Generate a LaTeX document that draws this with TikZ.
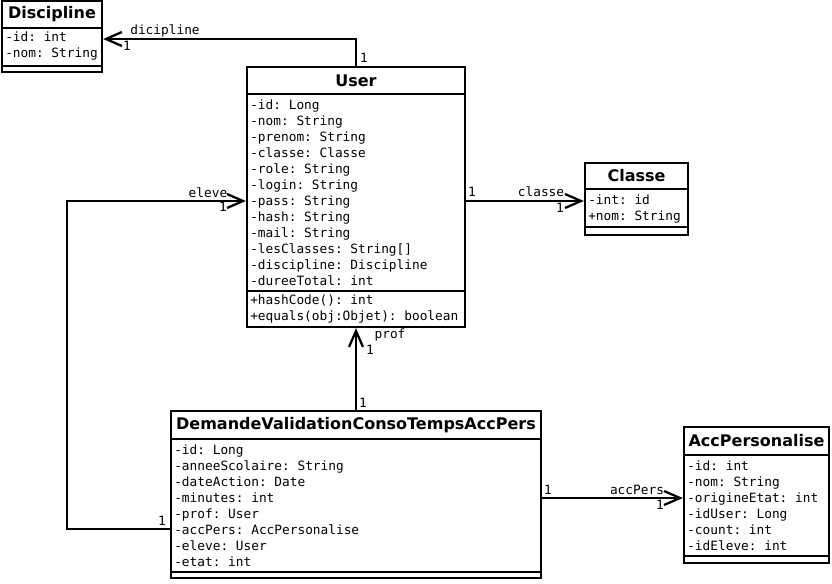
\documentclass[tikz,border=0pt]{standalone}
\usepackage{fontspec}
\setmainfont{DejaVu Sans}
\setmonofont{DejaVu Sans Mono}
\usetikzlibrary{arrows.meta, fit}

\begin{document}
\begin{tikzpicture}[x=0.75pt, y=-0.75pt,
    classbox/.style={draw, line width=1.7pt, inner sep=0pt},
    classline/.style={line width=1.7pt},
    classtitle/.style={font=\bfseries\fontsize{12}{14}\selectfont},
    members/.style={font=\ttfamily\fontsize{9.6}{12}\selectfont, align=left, anchor=west, inner sep=0pt},
    role/.style={font=\ttfamily\fontsize{9.6}{12}\selectfont, inner sep=0pt},
    assoc/.style={line width=1.7pt, -{Straight Barb[length=12pt, width=10.5pt]}}]
    \fill[white] (0,0) rectangle (832,583);
    \useasboundingbox (0,0) rectangle (832,583);

    % Discipline
    \node[classbox, fit={(2,1) (102,72)}] (discipline) {};
    \draw[classline] (2,28) -- (102,28);
    \draw[classline] (2,66) -- (102,66);
    \node[classtitle] (discipline-title) at (52,14.5) {Discipline};
    \node[members] (discipline-attrs) at (5,46.5) {-id: int\\-nom: String};

    % User
    \node[classbox, fit={(247,67) (465,327)}] (user) {};
    \draw[classline] (247,94) -- (465,94);
    \draw[classline] (247,291) -- (465,291);
    \node[classtitle] (user-title) at (356,81) {User};
    \node[members] (user-attrs) at (250,192.5) {-id: Long\\-nom: String\\-prenom: String\\-classe: Classe\\-role: String\\-login: String\\-pass: String\\-hash: String\\-mail: String\\-lesClasses: String[]\\-discipline: Discipline\\-dureeTotal: int};
    \node[members] (user-ops) at (250,308.5) {+hashCode(): int\\+equals(obj:Objet): boolean};

    % Classe
    \node[classbox, fit={(585,163) (688,235)}] (classe) {};
    \draw[classline] (585,189) -- (688,189);
    \draw[classline] (585,227) -- (688,227);
    \node[classtitle] (classe-title) at (636.5,176) {Classe};
    \node[members] (classe-attrs) at (588,209) {-int: id\\+nom: String};

    % DemandeValidationConsoTempsAccPers
    \node[classbox, fit={(171,411) (541,578)}] (demande) {};
    \draw[classline] (171,439) -- (541,439);
    \draw[classline] (171,572) -- (541,572);
    \node[classtitle] (demande-title) at (356,425) {DemandeValidationConsoTempsAccPers};
    \node[members] (demande-attrs) at (174,505.5) {-id: Long\\-anneeScolaire: String\\-dateAction: Date\\-minutes: int\\-prof: User\\-accPers: AccPersonalise\\-eleve: User\\-etat: int};

    % AccPersonalise
    \node[classbox, fit={(684,427) (829,563)}] (accpers) {};
    \draw[classline] (684,455) -- (829,455);
    \draw[classline] (684,556) -- (829,556);
    \node[classtitle] (accpers-title) at (756.5,441) {AccPersonalise};
    \node[members] (accpers-attrs) at (687,506) {-id: int\\-nom: String\\-origineEtat: int\\-idUser: Long\\-count: int\\-idEleve: int};

    % Associations
    \draw[assoc] (user.north) |- (discipline.east |- 0,39);
    \draw[assoc] (user.east |- 0,201) -- (classe.west |- 0,201);
    \draw[assoc] (demande.north) -- (user.south);
    \coordinate (eleve-corner) at (67,201);
    \draw[assoc] (demande.west |- 0,529) -| (eleve-corner) -- (user.west |- eleve-corner);
    \draw[assoc] (demande.east |- 0,498) -- (accpers.west |- 0,498);

    % Roles and multiplicities
    \node[role] (dicipline-role) at (165,31) {dicipline};
    \node[role] (dicipline-m1) at (127,46) {1};
    \node[role] (dicipline-m2) at (364,58) {1};
    \node[role] (classe-m1) at (472,192) {1};
    \node[role] (classe-role) at (541,192) {classe};
    \node[role] (classe-m2) at (560,208) {1};
    \node[role] (prof-role) at (390,335) {prof};
    \node[role] (prof-m1) at (370,350) {1};
    \node[role] (prof-m2) at (363,403) {1};
    \node[role] (eleve-role) at (208,193) {eleve};
    \node[role] (eleve-m1) at (223,207) {1};
    \node[role] (eleve-m2) at (162,521) {1};
    \node[role] (accpers-m1) at (548,490) {1};
    \node[role] (accpers-role) at (637,490) {accPers};
    \node[role] (accpers-m2) at (660,505) {1};
\end{tikzpicture}
\end{document}
